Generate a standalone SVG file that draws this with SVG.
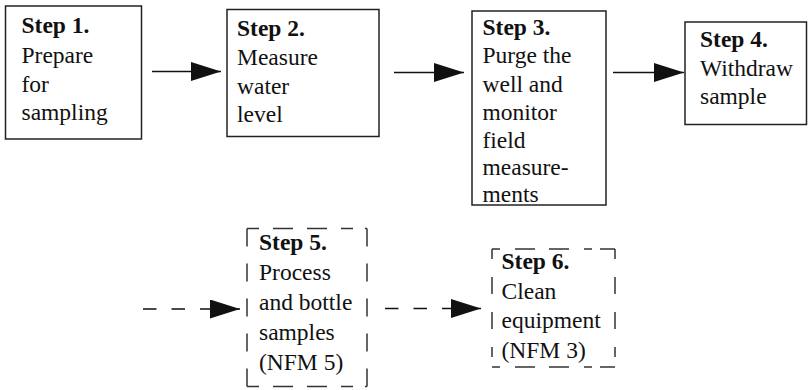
<svg xmlns="http://www.w3.org/2000/svg" width="808" height="390" viewBox="0 0 808 390">
<style>
.box{fill:#fff;stroke:#222;stroke-width:1.5}
.dbox{fill:none;stroke:#333;stroke-width:1.5}
.t{font-family:"Liberation Serif","Times New Roman",serif;font-size:23.5px;fill:#111}
.b{font-weight:bold}
.c{stroke:#111;stroke-width:1.5;fill:none}
.dc{stroke:#111;stroke-width:1.5;fill:none;stroke-dasharray:13.5 15}
</style>
<defs>
<marker id="ah" markerUnits="userSpaceOnUse" markerWidth="31" markerHeight="20" refX="30" refY="9.5" orient="auto">
<path d="M0,0 L30,9.5 L0,19 z" fill="#111"/>
</marker>
</defs>
<rect width="808" height="390" fill="#fff"/>
<g id="connectors">
<line class="c" x1="152" y1="71.5" x2="221" y2="71.5" marker-end="url(#ah)"/>
<line class="c" x1="394" y1="72.5" x2="464" y2="72.5" marker-end="url(#ah)"/>
<line class="c" x1="613" y1="72.5" x2="684" y2="72.5" marker-end="url(#ah)"/>
<line class="dc" x1="143" y1="309" x2="240" y2="309" marker-end="url(#ah)"/>
<line class="dc" x1="385" y1="308.5" x2="481" y2="308.5" marker-end="url(#ah)"/>
</g>
<g id="step1">
<rect class="box" x="5.5" y="6" width="136" height="133"/>
<text class="t" x="21.5"><tspan class="b" y="33">Step 1.</tspan><tspan x="21.5" y="62.5">Prepare</tspan><tspan x="21.5" y="91.5">for</tspan><tspan x="21.5" y="120">sampling</tspan></text>
</g>
<g id="step2">
<rect class="box" x="227" y="9.5" width="152" height="127"/>
<text class="t" x="237"><tspan class="b" y="35.5">Step 2.</tspan><tspan x="237" y="64.5">Measure</tspan><tspan x="237" y="93.5">water</tspan><tspan x="237" y="122">level</tspan></text>
</g>
<g id="step3">
<rect class="box" x="472" y="11" width="134" height="194"/>
<text class="t" x="482.5"><tspan class="b" y="34.5">Step 3.</tspan><tspan x="482.5" y="63">Purge the</tspan><tspan x="482.5" y="91.5">well and</tspan><tspan x="482.5" y="119.5">monitor</tspan><tspan x="482.5" y="147.5">field</tspan><tspan x="482.5" y="175">measure-</tspan><tspan x="482.5" y="202">ments</tspan></text>
</g>
<g id="step4">
<rect class="box" x="685" y="22" width="121.5" height="102.5"/>
<text class="t" x="700"><tspan class="b" y="46.5">Step 4.</tspan><tspan x="700" y="75.5">Withdraw</tspan><tspan x="700" y="104">sample</tspan></text>
</g>
<g id="step5">
<path class="dbox" style="stroke-dasharray:18 17" d="M247,228.5 V386.5"/>
<path class="dbox" style="stroke-dasharray:18 17" d="M367,228.5 V386.5"/>
<path class="dbox" style="stroke-dasharray:12 14 20 14 20 14 12" d="M247,228.5 H367"/>
<path class="dbox" style="stroke-dasharray:12 14 20 14 20 14 12" d="M247,386.5 H367"/>
<text class="t" x="259"><tspan class="b" y="250">Step 5.</tspan><tspan x="259" y="280">Process</tspan><tspan x="259" y="310">and bottle</tspan><tspan x="259" y="339.5">samples</tspan><tspan x="259" y="369.5">(NFM 5)</tspan></text>
</g>
<g id="step6">
<path class="dbox" style="stroke-dasharray:10 18 17 18 17 18 10" d="M492,249 V367"/>
<path class="dbox" style="stroke-dasharray:10 18 17 18 17 18 10" d="M615,249 V367"/>
<path class="dbox" style="stroke-dasharray:8 15 20 14 20 15 8" d="M492,249 H615"/>
<path class="dbox" style="stroke-dasharray:8 15 20 14 20 15 8" d="M492,367 H615"/>
<text class="t" x="501.5"><tspan class="b" y="269">Step 6.</tspan><tspan x="501.5" y="298.5">Clean</tspan><tspan x="501.5" y="328">equipment</tspan><tspan x="501.5" y="357.5">(NFM 3)</tspan></text>
</g>
</svg>
